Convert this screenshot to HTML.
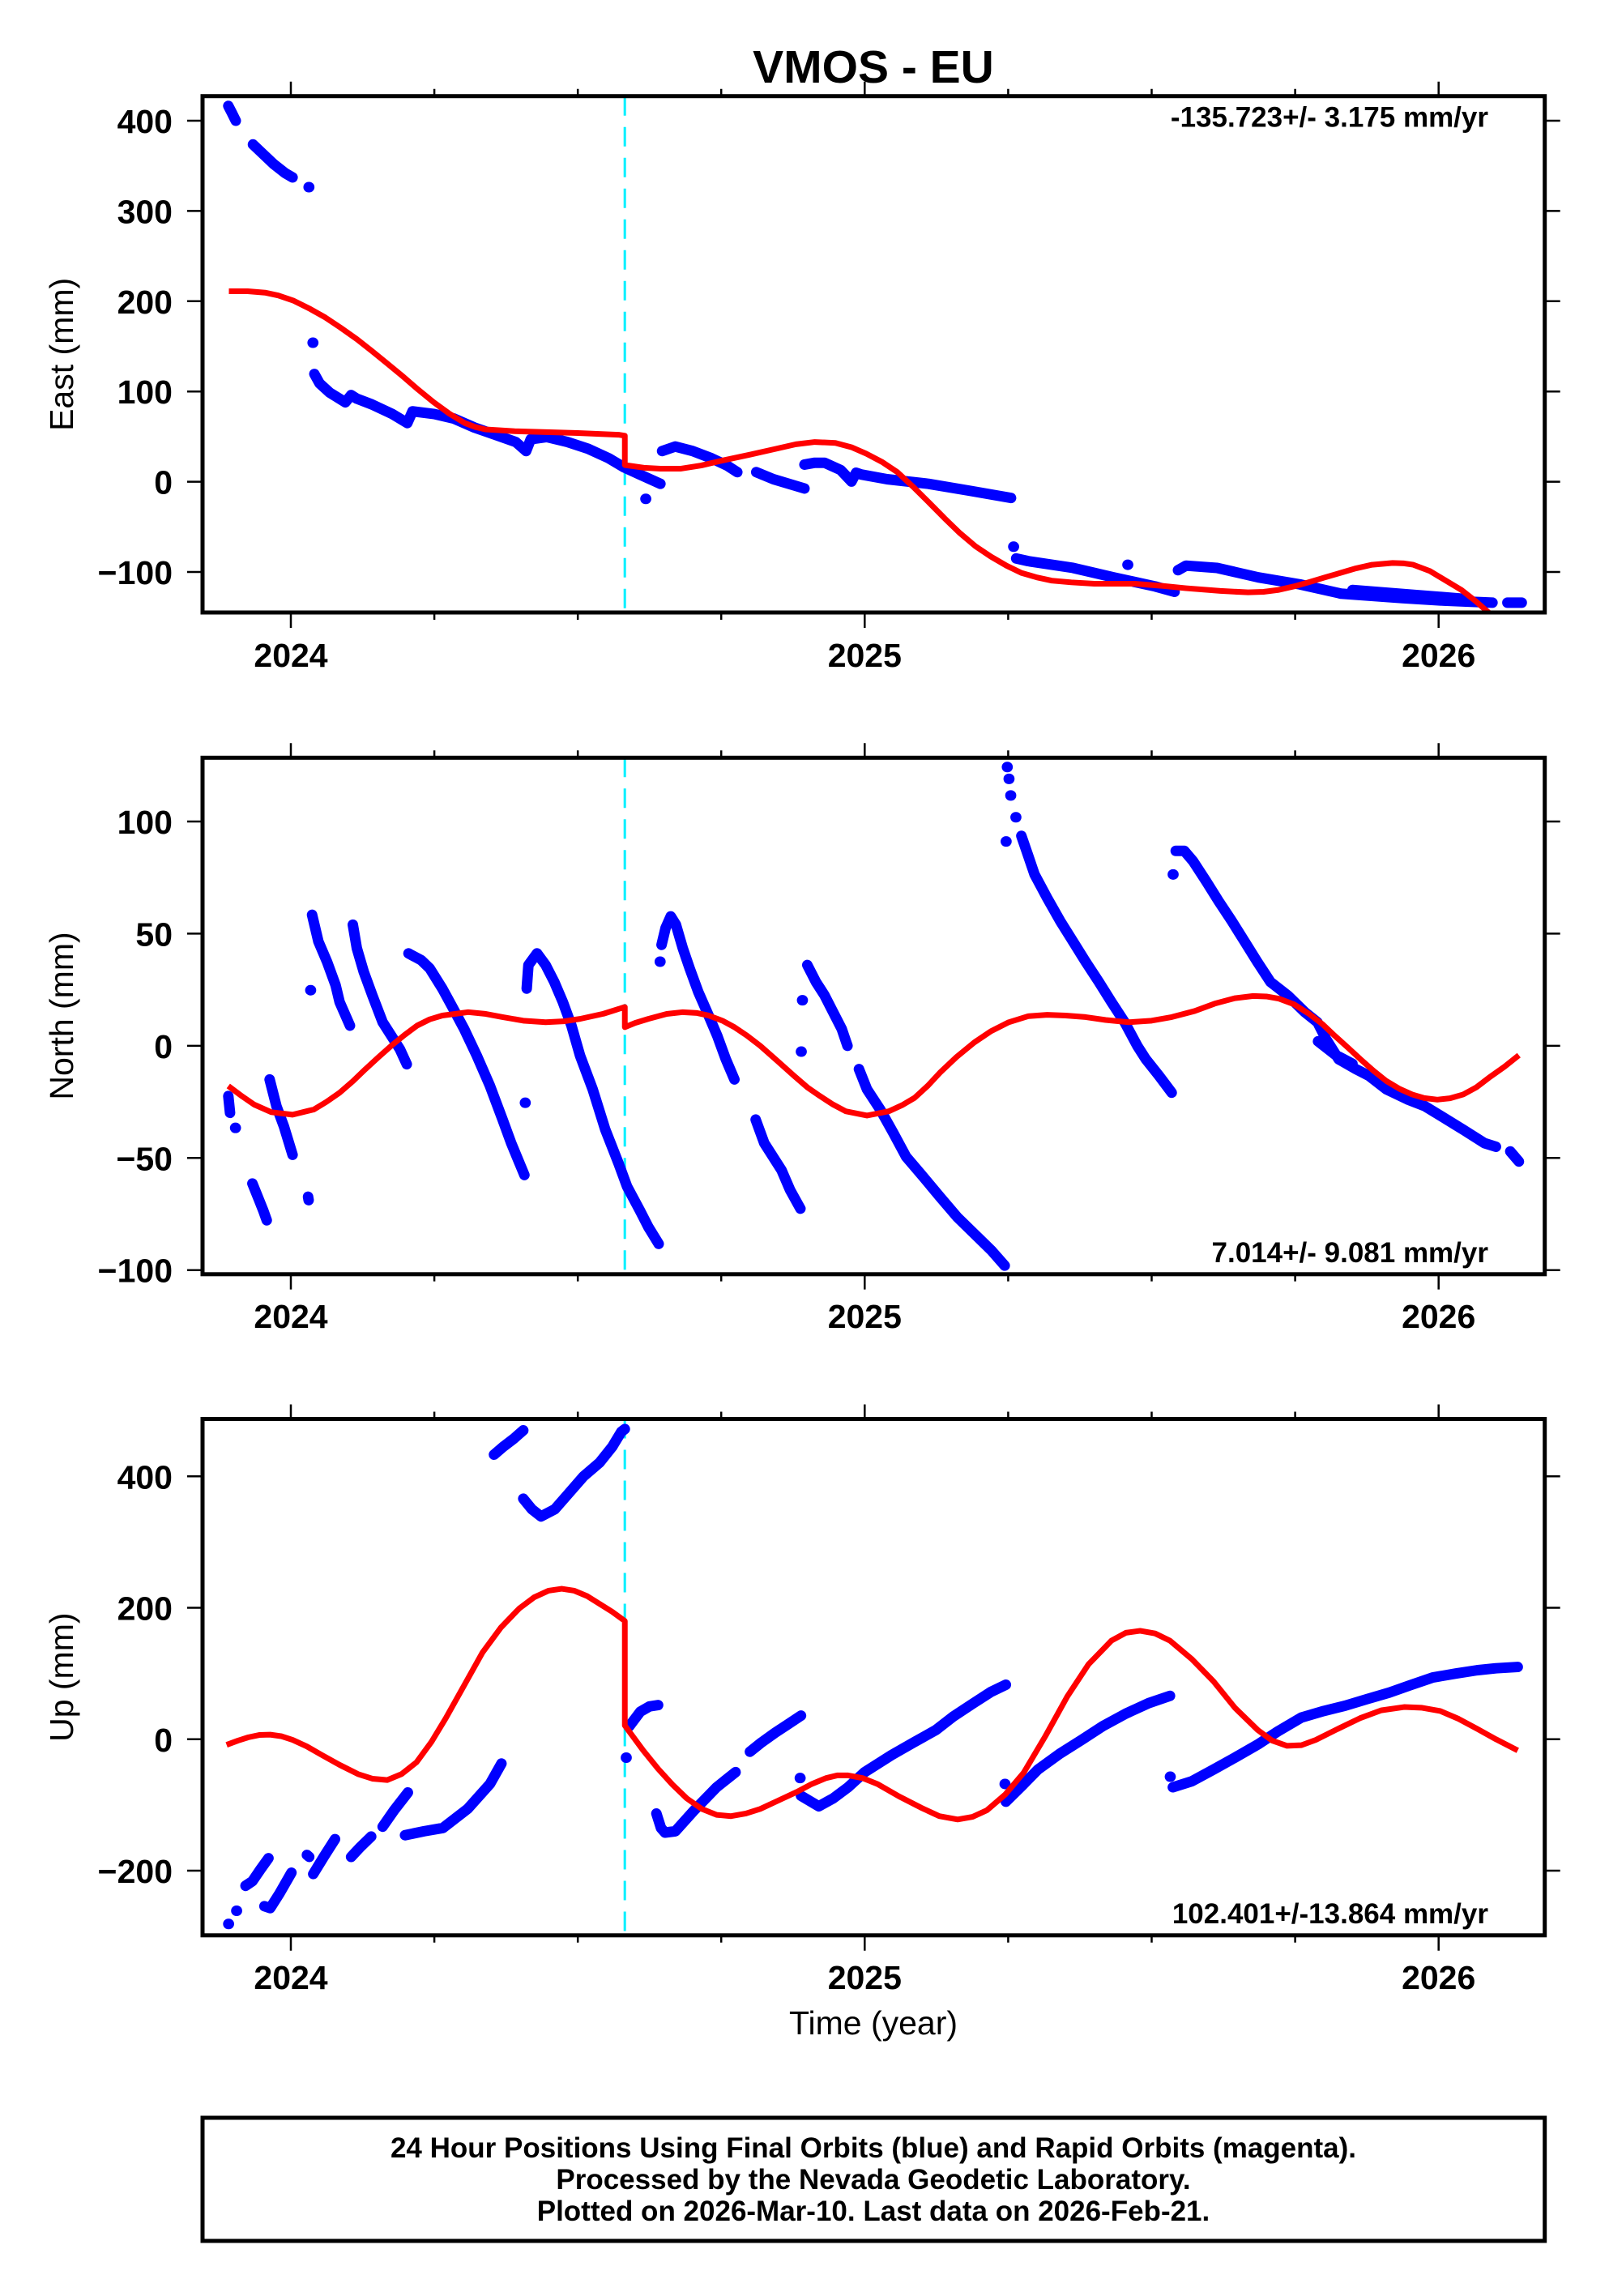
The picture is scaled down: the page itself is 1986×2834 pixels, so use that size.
<!DOCTYPE html>
<html>
<head>
<meta charset="utf-8">
<style>
html,body{margin:0;padding:0;background:#fff;}
svg{display:block;}
text{font-family:"Liberation Sans",Arial,Helvetica,sans-serif;fill:#000;}
.b{font-weight:bold;}
.blue{fill:none;stroke:#0000ff;stroke-width:13;stroke-linecap:round;stroke-linejoin:round;vector-effect:non-scaling-stroke;}
.red{fill:none;stroke:#ff0000;stroke-width:7;stroke-linejoin:round;vector-effect:non-scaling-stroke;}
.cyan{stroke:#00f0ff;stroke-width:3;stroke-dasharray:24 14;}
.tk{stroke:#000;stroke-width:2.5;fill:none;}
.fr{fill:none;stroke:#000;stroke-width:5;}
</style>
</head>
<body>
<svg width="1986" height="2834" viewBox="0 0 1986 2834" xmlns="http://www.w3.org/2000/svg">
<defs>
  <clipPath id="c1"><rect x="250" y="118.7" width="1656.7" height="637.3"/></clipPath>
  <clipPath id="c2"><rect x="250" y="935.3" width="1656.7" height="637.5"/></clipPath>
  <clipPath id="c3"><rect x="250" y="1751.5" width="1656.7" height="637.3"/></clipPath>
  <g id="xt">
    <path class="tk" d="M359 118.7v-18 M536.1 118.7v-9 M713.2 118.7v-9 M890.2 118.7v-9 M1067.3 118.7v-18 M1244.4 118.7v-9 M1421.5 118.7v-9 M1598.6 118.7v-9 M1775.7 118.7v-18
    M359 756v19 M536.1 756v9 M713.2 756v9 M890.2 756v9 M1067.3 756v19 M1244.4 756v9 M1421.5 756v9 M1598.6 756v9 M1775.7 756v19"/>
  </g>
</defs>

<!-- Title -->
<text x="1078" y="102" text-anchor="middle" class="b" font-size="57">VMOS - EU</text>

<!-- ================= PANEL 1 : EAST ================= -->
<g clip-path="url(#c1)">
  <line class="cyan" x1="771.2" y1="118.7" x2="771.2" y2="756"/>
  <g transform="matrix(708.3 0 0 -1.114 359 594.6)">
    <path class="blue" d="M-0.109 416.4 L-0.103 409 -0.096 400
    M-0.066 373.7 L-0.05 364 -0.03 352 -0.01 342 0.003 337.2
    M0.031 326.4 l0.001 0
    M0.038 154 l0.001 0
    M0.041 119.4 L0.05 109 0.068 98.6 0.095 88 0.105 96 0.115 92 0.141 85.7 0.176 75.3 0.203 65 0.212 78 0.25 75 0.284 70 0.32 60 0.356 52 0.392 44 0.41 34 0.418 47 0.446 49.5 0.482 44 0.518 36.5 0.554 26 0.581 15.8 0.608 8 0.644 -2.3
    M0.618 -19 l0.001 0
    M0.647 34 L0.67 39 0.70 34 0.733 26 0.76 18 0.778 10.6
    M0.811 10.6 L0.841 2.8 0.895 -7.5
    M0.895 19 L0.913 21 0.93 21 0.958 13 0.977 0.2 0.985 10 0.994 8 1.039 2.8 1.111 -2.3 1.183 -10 1.255 -18
    M1.259 -72 l0.001 0
    M1.264 -85 L1.285 -88 1.363 -95.5 1.434 -106 1.506 -116 1.54 -122
    M1.458 -92 l0.001 0
    M1.546 -98 L1.56 -93 1.614 -95.5 1.686 -106 1.758 -113.7 1.83 -124 1.937 -129 2.01 -131.8 2.094 -134
    M1.85 -120 L1.95 -125 2.05 -130
    M2.12 -134 L2.145 -134"/>
    <path class="red" d="M-0.108 211 L-0.075 211 -0.045 209.5 -0.022 206.4 0.005 200.5 0.032 192 0.06 182 0.086 171 0.115 158 0.141 145 0.168 131 0.195 116.8 0.222 102 0.249 88 0.276 75.5 0.303 65 0.322 60.5 0.339 58 0.39 56 0.50 54 0.572 52 0.582 51 L0.582 18.5 0.615 15.5 0.644 14.5 0.68 14.5 0.715 18 0.752 23.5 0.8 30 0.842 36 0.88 41.5 0.913 44 0.949 43 0.978 38 1.003 31 1.03 22 1.057 10.6 1.085 -6 1.112 -23 1.14 -41 1.166 -57 1.193 -71.5 1.22 -83 1.247 -93 1.273 -101 1.3 -106 1.326 -109.6 1.36 -111.5 1.40 -113 1.47 -113 1.52 -115.5 1.56 -118 1.62 -121 1.668 -122.6 1.695 -122 1.72 -120 1.748 -116 1.776 -111 1.802 -106 1.829 -101 1.856 -96 1.884 -92 1.92 -90 1.94 -90.5 1.956 -92 1.985 -99 2.01 -108.5 2.04 -120 2.064 -132 2.10 -152"/>
  </g>
</g>
<rect class="fr" x="250" y="118.7" width="1656.7" height="637.3"/>
<use href="#xt"/>
<path class="tk" d="M231 149h19 M231 260.4h19 M231 371.8h19 M231 483.2h19 M231 594.6h19 M231 706h19
M1906.7 149h19 M1906.7 260.4h19 M1906.7 371.8h19 M1906.7 483.2h19 M1906.7 594.6h19 M1906.7 706h19"/>
<g class="b" font-size="41" text-anchor="end">
  <text x="213" y="164">400</text>
  <text x="213" y="275.4">300</text>
  <text x="213" y="386.8">200</text>
  <text x="213" y="498.2">100</text>
  <text x="213" y="609.6">0</text>
  <text x="213" y="721">−100</text>
</g>
<g class="b" font-size="41" text-anchor="middle">
  <text x="359" y="823">2024</text>
  <text x="1067.3" y="823">2025</text>
  <text x="1775.7" y="823">2026</text>
</g>
<text transform="translate(90,437.4) rotate(-90)" text-anchor="middle" font-size="41">East (mm)</text>
<text x="1837" y="156.7" text-anchor="end" class="b" font-size="35">-135.723+/- 3.175 mm/yr</text>

<!-- ================= PANEL 2 : NORTH ================= -->
<g clip-path="url(#c2)">
  <line class="cyan" x1="771.2" y1="935.3" x2="771.2" y2="1572.8"/>
  <g transform="matrix(708.3 0 0 -2.7685 359 1290.85)">
    <path class="blue" d="M-0.109 -22.4 L-0.106 -29.9
    M-0.097 -36.6 l0.001 0
    M-0.067 -61.4 L-0.055 -69 -0.048 -73.5 -0.042 -77.8
    M-0.037 -15 L-0.031 -21 -0.025 -27 -0.012 -36 0.003 -48.6
    M0.03 -67.3 L0.031 -68.8
    M0.034 24.8 l0.001 0
    M0.037 58.4 L0.048 46.5 0.063 37.5 0.078 27 0.085 19.5 0.103 9.0
    M0.108 54 L0.115 43.5 0.127 33 0.142 22.5 0.16 10.5 0.175 4.5 0.19 -1.5 0.202 -8.2
    M0.205 41.2 L0.227 38.2 0.242 34.5 0.264 25.5 0.28 18 0.302 7.5 0.324 -4.4 0.347 -17.9 0.369 -32.9 0.384 -43.4 0.407 -57.6
    M0.408 -25.4 l0.001 0
    M0.411 25.5 L0.414 36 0.429 41.2 0.444 36 0.459 28.5 0.474 19.5 0.489 9 0.504 -4.4 0.526 -19.4 0.548 -37.4 0.571 -52.4 0.586 -62.8 0.608 -73.3 0.623 -80.8 0.641 -88.3
    M0.643 37.5 l0.001 0
    M0.646 45 L0.653 52.5 0.662 57.7 0.671 54 0.683 43.5 0.695 34.5 0.71 24 0.728 13.5 0.743 4.5 0.758 -6 0.773 -15
    M0.891 20.3 l0.001 0
    M0.889 -2.6 l0.001 0
    M0.90 36 L0.915 28.5 0.93 22.5 0.945 15 0.96 7.5 0.97 0
    M0.81 -32.9 L0.825 -43.4 0.84 -49.4 0.855 -55.4 0.87 -64.3 0.888 -72.6
    M0.99 -10.4 L1.004 -19.4 1.027 -28.4 1.05 -38.9 1.072 -49.4 1.102 -58.4 1.131 -67.3 1.161 -76.3 1.191 -83.8 1.221 -91.3 1.244 -98
    M1.248 124.3 l0.001 0 M1.251 119 l0.001 0 M1.254 111.6 l0.001 0 M1.263 101.9 l0.001 0 M1.246 91.1 l0.001 0
    M1.273 93.6 L1.284 85.4 1.296 76.4 1.318 65.9 1.341 55.5 1.363 46.5 1.385 37.5 1.408 28.5 1.43 19.5 1.453 10.5 1.475 0 1.49 -6 1.513 -13.4 1.535 -20.9
    M1.537 76.4 l0.001 0
    M1.542 86.9 L1.557 86.9 1.572 82.4 1.595 73.4 1.617 64.4 1.64 55.5 1.662 46.5 1.684 37.5 1.707 28.5 1.737 22.5 1.767 15 1.789 10.5 1.804 3 1.826 -6 1.856 -10.4 1.879 -13.4 1.909 -19.4 1.946 -23.9 1.976 -26.9 2.005 -31.4 2.043 -37.4 2.08 -43.4 2.1 -45
    M1.79 2 L1.82 -4 1.85 -8
    M2.125 -47.1 L2.14 -51.6"/>
    <path class="red" d="M-0.109 -17.9 L-0.085 -22.5 -0.064 -26.2 -0.034 -29.6 0.003 -30.7 0.04 -28.4 0.062 -25 0.085 -20.9 0.108 -15.8 0.13 -10.4 0.153 -5 0.175 0 0.198 4.8 0.22 9 0.242 11.8 0.264 13.5 0.309 15 0.34 14.2 0.369 12.8 0.405 11.2 0.444 10.5 0.475 10.9 0.504 12 0.545 14.3 0.582 17.3 L0.582 8.3 0.6 10.2 0.623 12 0.655 14.2 0.683 15 0.708 14.6 0.728 13.5 0.752 11.2 0.773 8.3 0.795 4.5 0.818 0 0.848 -6.8 0.877 -13.4 0.9 -18.5 0.922 -22.4 0.945 -26.2 0.967 -29.2 1.004 -31.1 1.042 -29.2 1.065 -26.5 1.087 -23.2 1.11 -17.8 1.131 -12 1.16 -5 1.191 1.5 1.22 6.5 1.251 10.5 1.285 13.2 1.318 13.8 1.35 13.5 1.385 12.8 1.42 11.5 1.46 10.5 1.5 11.2 1.535 12.8 1.575 15.5 1.61 18.8 1.645 21.2 1.677 22.2 1.7 22 1.722 21 1.748 18.5 1.774 14.3 1.797 9.8 1.819 4.5 1.842 -0.8 1.864 -6 1.887 -11.2 1.909 -15.7 1.932 -19.2 1.954 -21.7 1.975 -23.3 1.998 -24 2.02 -23.4 2.043 -21.7 2.066 -18.5 2.088 -14.2 2.115 -9.3 2.14 -4.2"/>
  </g>
</g>
<rect class="fr" x="250" y="935.3" width="1656.7" height="637.5"/>
<use href="#xt" transform="translate(0,816.6)"/>
<path class="tk" d="M231 1014h19 M231 1152.4h19 M231 1290.85h19 M231 1429.3h19 M231 1567.7h19
M1906.7 1014h19 M1906.7 1152.4h19 M1906.7 1290.85h19 M1906.7 1429.3h19 M1906.7 1567.7h19"/>
<g class="b" font-size="41" text-anchor="end">
  <text x="213" y="1029">100</text>
  <text x="213" y="1167.4">50</text>
  <text x="213" y="1305.85">0</text>
  <text x="213" y="1444.3">−50</text>
  <text x="213" y="1582.7">−100</text>
</g>
<g class="b" font-size="41" text-anchor="middle">
  <text x="359" y="1639">2024</text>
  <text x="1067.3" y="1639">2025</text>
  <text x="1775.7" y="1639">2026</text>
</g>
<text transform="translate(90,1254) rotate(-90)" text-anchor="middle" font-size="41">North (mm)</text>
<text x="1837" y="1558" text-anchor="end" class="b" font-size="35">7.014+/- 9.081 mm/yr</text>

<!-- ================= PANEL 3 : UP ================= -->
<g clip-path="url(#c3)">
  <line class="cyan" x1="771.2" y1="1751.5" x2="771.2" y2="2388.8"/>
  <g transform="matrix(708.3 0 0 -0.8112 359 2146.8)">
    <path class="blue" d="M-0.109 -281 l0.001 0
    M-0.095 -261 l0.001 0
    M-0.079 -223 L-0.067 -216 -0.053 -198 -0.039 -181
    M-0.046 -254 L-0.036 -257 -0.02 -235 0.001 -203
    M0.028 -176 L0.032 -179
    M0.039 -205 L0.058 -178 0.077 -152
    M0.105 -179 L0.12 -165 0.14 -148
    M0.16 -133 L0.18 -108 0.204 -81
    M0.199 -146 L0.232 -140 0.265 -135 0.308 -106 0.347 -68 0.367 -37
    M0.354 433 L0.37 445 0.388 457 0.405 470
    M0.405 366 L0.42 350 0.436 339 0.46 350 0.487 377 0.51 400 0.538 421 0.56 445 0.576 468 0.582 472
    M0.584 -28 l0.001 0
    M0.59 20 L0.609 42 0.625 50 0.64 52
    M0.637 -113 L0.645 -135 0.652 -142 0.67 -140 0.703 -108 0.742 -73 0.775 -50
    M0.80 -19 L0.82 -5 0.844 10 0.865 22 0.889 36
    M0.887 -59 l0.001 0
    M0.889 -86 L0.92 -102 0.945 -90 0.971 -73 1.0 -50 1.047 -24 1.085 -5 1.124 14 1.155 35 1.188 54 1.22 72 1.246 83
    M1.244 -68 l0.001 0
    M1.246 -95 L1.275 -70 1.302 -46 1.34 -22 1.378 -1 1.415 20 1.455 39 1.495 55 1.532 66
    M1.532 -57 l0.001 0
    M1.537 -73 L1.57 -64 1.608 -46 1.645 -28 1.685 -8 1.72 12 1.761 33 1.80 43 1.837 51 1.875 61 1.914 71 1.95 82 1.99 94 2.03 100 2.067 105 2.1 108 2.138 110"/>
    <path class="red" d="M-0.112 -8.5 L-0.092 -2 -0.074 3 -0.055 6.5 -0.036 7 -0.016 4.5 0.003 -1 0.028 -11 0.054 -24 0.085 -39 0.117 -53 0.142 -60 0.168 -62 0.193 -53 0.219 -35 0.245 -4 0.27 32 0.302 82 0.334 132 0.366 170 0.398 199 0.424 216 0.449 226 0.472 229 0.494 226 0.516 218 0.538 206 0.56 194 0.582 180 L0.582 21 0.598 2 0.614 -17 0.64 -45 0.665 -69 0.69 -90 0.716 -106 0.742 -115 0.767 -117 0.793 -113 0.818 -106 0.85 -93 0.882 -80 0.908 -68 0.933 -59 0.952 -55 0.971 -55 0.996 -59 1.022 -68 1.06 -87 1.098 -104 1.13 -117 1.162 -122 1.188 -118 1.213 -108 1.245 -84 1.277 -51 1.315 5 1.353 65 1.39 114 1.43 150 1.455 162 1.48 165 1.506 161 1.532 150 1.57 122 1.608 88 1.645 48 1.685 14 1.71 -2 1.736 -10 1.761 -9 1.786 -1 1.825 16 1.863 32 1.9 44 1.94 49 1.97 48 2.003 43 2.035 31 2.067 16 2.1 0 2.138 -17"/>
  </g>
</g>
<rect class="fr" x="250" y="1751.5" width="1656.7" height="637.3"/>
<use href="#xt" transform="translate(0,1632.8)"/>
<path class="tk" d="M231 1822.3h19 M231 1984.56h19 M231 2146.8h19 M231 2309h19
M1906.7 1822.3h19 M1906.7 1984.56h19 M1906.7 2146.8h19 M1906.7 2309h19"/>
<g class="b" font-size="41" text-anchor="end">
  <text x="213" y="1837.3">400</text>
  <text x="213" y="1999.56">200</text>
  <text x="213" y="2161.8">0</text>
  <text x="213" y="2324">−200</text>
</g>
<g class="b" font-size="41" text-anchor="middle">
  <text x="359" y="2455">2024</text>
  <text x="1067.3" y="2455">2025</text>
  <text x="1775.7" y="2455">2026</text>
</g>
<text transform="translate(90,2070.2) rotate(-90)" text-anchor="middle" font-size="41">Up (mm)</text>
<text x="1837" y="2374" text-anchor="end" class="b" font-size="35">102.401+/-13.864 mm/yr</text>

<text x="1078" y="2511" text-anchor="middle" font-size="41">Time (year)</text>

<!-- Footer box -->
<rect class="fr" x="250" y="2614" width="1656.7" height="152"/>
<g class="b" font-size="35" text-anchor="middle">
  <text x="1078" y="2663">24 Hour Positions Using Final Orbits (blue) and Rapid Orbits (magenta).</text>
  <text x="1078" y="2702">Processed by the Nevada Geodetic Laboratory.</text>
  <text x="1078" y="2741">Plotted on 2026-Mar-10. Last data on 2026-Feb-21.</text>
</g>
</svg>
</body>
</html>
